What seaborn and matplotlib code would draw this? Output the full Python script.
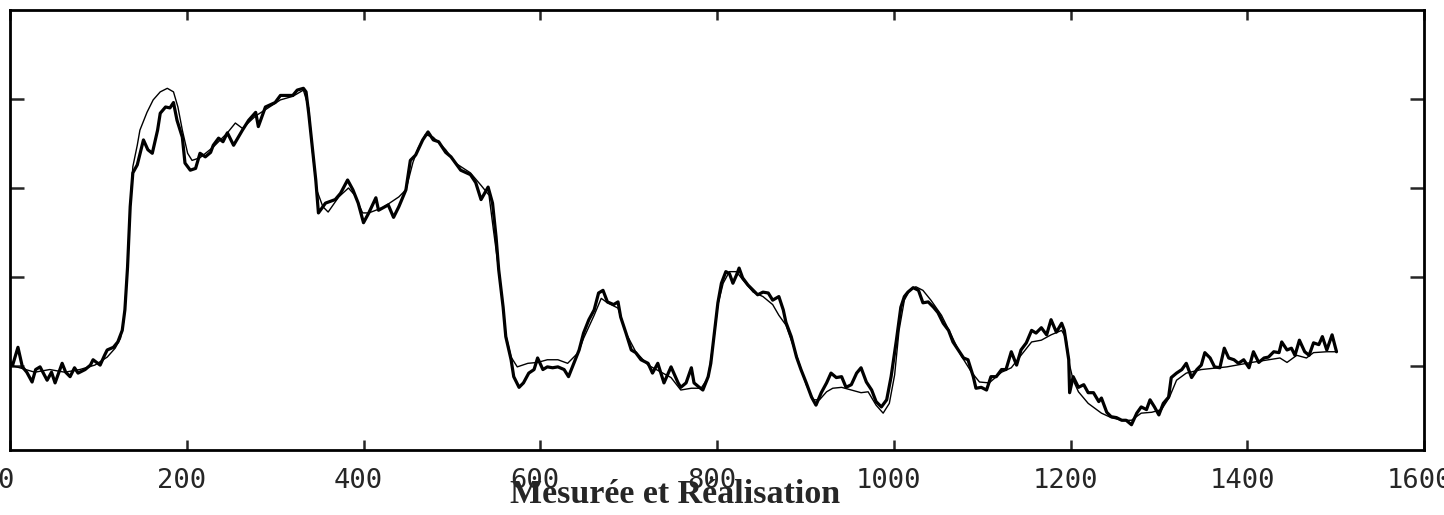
import numpy as np
import pandas as pd
import seaborn as sns
import matplotlib.pyplot as plt
import matplotlib.transforms as mtransforms

# thick line: measured signal (sample index, value)
mes_x = [0, 3, 9, 14, 19, 25, 29, 34, 42, 47, 51, 59, 63, 68, 73, 77, 85, 91, 94, 102,
         107, 110, 117, 122, 127, 130, 133, 136, 139, 144, 151, 156, 161, 167, 170, 176, 181, 185, 189, 195,
         198, 204, 210, 215, 221, 227, 230, 236, 241, 246, 253, 263, 270, 278, 281, 289, 300, 306, 320, 325,
         332, 335, 338, 342, 346, 349, 354, 357, 368, 374, 382, 388, 394, 400, 406, 414, 417, 428, 434, 440,
         448, 453, 459, 467, 473, 479, 485, 493, 499, 510, 521, 527, 533, 541, 546, 550, 553, 558, 561, 567,
         570, 576, 581, 587, 593, 597, 603, 608, 614, 620, 627, 632, 638, 644, 649, 655, 661, 666, 671, 676,
         683, 688, 691, 697, 703, 708, 714, 722, 727, 733, 740, 748, 756, 759, 765, 771, 774, 780, 784, 790,
         793, 797, 801, 805, 810, 814, 818, 822, 825, 829, 835, 841, 846, 852, 858, 863, 870, 875, 878, 884,
         890, 895, 901, 907, 912, 918, 924, 929, 935, 941, 946, 952, 958, 963, 969, 975, 980, 986, 992, 997,
         1003, 1008, 1012, 1016, 1022, 1028, 1033, 1039, 1045, 1050, 1056, 1062, 1067, 1073, 1079, 1084, 1090, 1093, 1099, 1105,
         1110, 1116, 1122, 1127, 1133, 1139, 1144, 1150, 1156, 1161, 1167, 1173, 1178, 1184, 1190, 1193, 1198, 1199, 1203, 1209,
         1215, 1220, 1226, 1232, 1235, 1241, 1246, 1252, 1258, 1263, 1269, 1275, 1280, 1286, 1290, 1295, 1300, 1305, 1311, 1314,
         1320, 1326, 1331, 1337, 1343, 1348, 1352, 1358, 1363, 1369, 1374, 1379, 1385, 1390, 1396, 1402, 1407, 1413, 1419, 1424,
         1430, 1436, 1439, 1445, 1450, 1454, 1459, 1465, 1470, 1475, 1481, 1485, 1490, 1496, 1501]
mes_y = [1.04, 1.01, 1.21, 0.99, 0.93, 0.82, 0.96, 0.99, 0.84, 0.93, 0.81, 1.03, 0.93, 0.88, 0.98, 0.92, 0.96, 1.01, 1.07, 1.01,
         1.12, 1.18, 1.21, 1.27, 1.40, 1.63, 2.11, 2.79, 3.17, 3.26, 3.54, 3.43, 3.39, 3.65, 3.84, 3.91, 3.90, 3.96, 3.76, 3.57,
         3.28, 3.20, 3.22, 3.39, 3.35, 3.40, 3.48, 3.56, 3.52, 3.62, 3.48, 3.65, 3.76, 3.85, 3.69, 3.91, 3.96, 4.04, 4.04, 4.10,
         4.12, 4.08, 3.84, 3.46, 3.09, 2.72, 2.79, 2.83, 2.87, 2.94, 3.09, 2.98, 2.83, 2.61, 2.72, 2.89, 2.75, 2.81, 2.67, 2.79,
         2.98, 3.31, 3.37, 3.54, 3.63, 3.54, 3.52, 3.40, 3.35, 3.20, 3.15, 3.06, 2.87, 3.01, 2.83, 2.45, 2.08, 1.66, 1.33, 1.07,
         0.88, 0.76, 0.81, 0.92, 0.96, 1.09, 0.96, 0.99, 0.98, 0.99, 0.96, 0.88, 1.03, 1.18, 1.37, 1.52, 1.63, 1.82, 1.85, 1.72,
         1.69, 1.72, 1.55, 1.37, 1.18, 1.15, 1.07, 1.03, 0.92, 1.03, 0.81, 0.99, 0.81, 0.76, 0.81, 0.98, 0.81, 0.76, 0.73, 0.88,
         1.03, 1.37, 1.71, 1.93, 2.06, 2.04, 1.93, 2.02, 2.10, 1.99, 1.91, 1.85, 1.80, 1.83, 1.82, 1.74, 1.78, 1.63, 1.49, 1.33,
         1.10, 0.96, 0.81, 0.65, 0.56, 0.70, 0.81, 0.92, 0.87, 0.88, 0.76, 0.79, 0.92, 0.98, 0.82, 0.73, 0.60, 0.54, 0.62, 0.88,
         1.29, 1.66, 1.78, 1.83, 1.88, 1.85, 1.71, 1.72, 1.66, 1.60, 1.48, 1.40, 1.27, 1.18, 1.09, 1.07, 0.88, 0.75, 0.76, 0.73,
         0.88, 0.88, 0.96, 0.96, 1.16, 1.01, 1.18, 1.26, 1.40, 1.37, 1.43, 1.35, 1.52, 1.38, 1.48, 1.40, 1.07, 0.70, 0.88, 0.76,
         0.79, 0.70, 0.70, 0.60, 0.64, 0.48, 0.43, 0.42, 0.39, 0.39, 0.34, 0.47, 0.54, 0.51, 0.62, 0.54, 0.45, 0.58, 0.65, 0.87,
         0.92, 0.96, 1.03, 0.87, 0.96, 1.01, 1.15, 1.09, 0.99, 0.98, 1.20, 1.09, 1.07, 1.03, 1.07, 0.98, 1.16, 1.04, 1.09, 1.10,
         1.16, 1.15, 1.27, 1.18, 1.20, 1.12, 1.29, 1.16, 1.12, 1.26, 1.24, 1.33, 1.18, 1.35, 1.16]

# thin line: realisation (smoother)
real_x = [0, 11, 28, 45, 62, 79, 96, 110, 119, 125, 129, 133, 136, 139, 144, 147, 155, 162, 170, 178,
          185, 190, 195, 201, 206, 215, 230, 246, 255, 263, 278, 289, 306, 320, 332, 338, 342, 347, 354, 360,
          372, 383, 390, 399, 406, 422, 440, 448, 456, 462, 470, 479, 493, 504, 521, 533, 542, 547, 553, 558,
          561, 567, 574, 586, 597, 608, 620, 631, 643, 649, 661, 669, 676, 688, 697, 708, 722, 737, 748, 759,
          771, 782, 790, 797, 801, 807, 814, 822, 829, 841, 852, 863, 870, 878, 890, 901, 909, 916, 924, 931,
          941, 952, 963, 971, 980, 988, 995, 1001, 1006, 1012, 1018, 1025, 1033, 1042, 1054, 1065, 1076, 1088, 1097, 1108,
          1122, 1133, 1144, 1156, 1167, 1178, 1190, 1195, 1199, 1203, 1209, 1220, 1235, 1246, 1258, 1269, 1280, 1292, 1303, 1312,
          1320, 1331, 1348, 1377, 1405, 1437, 1445, 1456, 1467, 1475, 1490, 1501]
real_y = [1.01, 0.98, 0.93, 0.96, 0.93, 0.96, 1.01, 1.10, 1.20, 1.31, 1.52, 2.11, 2.79, 3.24, 3.48, 3.65, 3.85, 3.99, 4.08, 4.12,
          4.08, 3.91, 3.65, 3.39, 3.31, 3.34, 3.46, 3.62, 3.73, 3.67, 3.81, 3.88, 3.99, 4.03, 4.10, 3.90, 3.43, 2.98, 2.79, 2.73,
          2.90, 3.00, 2.92, 2.72, 2.72, 2.78, 2.90, 2.98, 3.29, 3.45, 3.60, 3.57, 3.43, 3.28, 3.17, 3.03, 2.92, 2.53, 2.08, 1.66,
          1.35, 1.10, 0.99, 1.03, 1.04, 1.07, 1.07, 1.03, 1.15, 1.31, 1.57, 1.76, 1.71, 1.65, 1.37, 1.16, 1.01, 0.93, 0.87, 0.73,
          0.75, 0.75, 0.87, 1.35, 1.69, 1.93, 2.06, 2.06, 1.97, 1.83, 1.78, 1.69, 1.57, 1.46, 1.12, 0.79, 0.62, 0.62, 0.71, 0.75,
          0.76, 0.73, 0.70, 0.71, 0.56, 0.47, 0.58, 0.90, 1.40, 1.74, 1.85, 1.89, 1.85, 1.74, 1.57, 1.35, 1.12, 0.93, 0.82, 0.81,
          0.93, 0.98, 1.12, 1.27, 1.29, 1.35, 1.40, 1.31, 1.01, 0.84, 0.71, 0.58, 0.47, 0.42, 0.39, 0.39, 0.47, 0.48, 0.51, 0.65,
          0.84, 0.92, 0.96, 0.99, 1.04, 1.09, 1.04, 1.12, 1.09, 1.15, 1.16, 1.16]

x_ticks = [0, 200, 400, 600, 800, 1000, 1200, 1400, 1600]
y_ticks = [1, 2, 3, 4]
label_text = "Mesurée et Réalisation"

sns.set_style("ticks")

fig = plt.figure(figsize=(14.44, 5.15), dpi=100)
ax = fig.add_axes([10 / 1444, 65 / 515, 1414 / 1444, 440 / 515])

sns.lineplot(x=mes_x, y=mes_y, ax=ax, color="black", linewidth=2.3,
             estimator=None, sort=False)
sns.lineplot(x=real_x, y=real_y, ax=ax, color="black", linewidth=1.0,
             estimator=None, sort=False)

ax.set_xlim(0, 1600)
ax.set_ylim(0.056, 5.0)
ax.set_xticks(x_ticks)
ax.set_xticklabels([str(t) for t in x_ticks], fontfamily="DejaVu Sans Mono", fontsize=19.5)
ax.set_yticks(y_ticks)
ax.set_yticklabels([])
ax.tick_params(axis="x", direction="in", length=7, width=1.8, top=True, pad=13)
ax.tick_params(axis="y", direction="in", length=10, width=1.8, right=True)
for s in ax.spines.values():
    s.set_linewidth(2)
    s.set_color("black")

# labels sit a few pixels left of their ticks in the original
shift = mtransforms.ScaledTranslation(-5 / 100, 0, fig.dpi_scale_trans)
for lbl in ax.get_xticklabels():
    lbl.set_transform(lbl.get_transform() + shift)

ax.set_xlabel(label_text, fontfamily="Liberation Serif", fontweight="bold", fontsize=24.5)
ax.xaxis.set_label_coords((675.5 - 10) / 1414, (450 - 503) / 440)
ax.xaxis.label.set_va("baseline")

fig.savefig("out.png", dpi=100)
